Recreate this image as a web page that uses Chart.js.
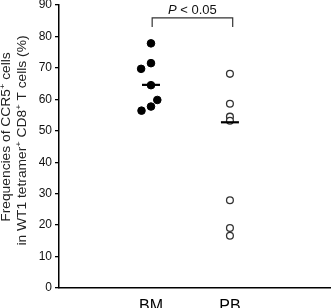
<!DOCTYPE html>
<html>
<head>
<meta charset="utf-8">
<script src="https://cdn.jsdelivr.net/npm/chart.js@4"></script>
<style>
html,body{margin:0;padding:0;background:#fff;}
#wrap{width:331px;height:308px;overflow:hidden;}
</style>
</head>
<body>
<div id="wrap"><canvas id="c" width="331" height="308"></canvas></div>
<script>
// ---- data ----
const categories = ['BM', 'PB'];
const categoryPos = [1, 2];
const bmValues = [77.8, 71.5, 69.7, 64.5, 59.8, 57.7, 56.4];
const bmJitter = [0, 0, -0.125, 0, 0.08, 0, -0.12];
const pbValues = [68.1, 58.6, 54.5, 53.2, 27.9, 19.1, 16.6];
const pbJitter = [0, 0, 0, 0, 0, 0, 0];
const medians = [64.6, 52.7];
const yTicks = [0, 10, 20, 30, 40, 50, 60, 70, 80, 90];
const yTitleLines = [
  [['Frequencies of CCR5', false], ['+', true], [' cells', false]],
  [['in WT1 tetramer', false], ['+', true], [' CD8', false], ['+', true], [' T cells (%)', false]]
];
const pLabel = [['P', true], [' < 0.05', false]];   // [text, italic]
const bracketX = [1.015, 2.035];
const bracketY = [83.0, 85.9];

const FAMILY = "'Liberation Sans', Arial, Helvetica, sans-serif";

const annotations = {
  id: 'annotations',
  afterDraw(chart) {
    const ctx = chart.ctx;
    const xs = chart.scales.x, ys = chart.scales.y;
    ctx.save();
    // significance bracket
    const x1 = xs.getPixelForValue(bracketX[0]);
    const x2 = xs.getPixelForValue(bracketX[1]);
    const yb = ys.getPixelForValue(bracketY[0]);
    const yt = ys.getPixelForValue(bracketY[1]);
    ctx.strokeStyle = '#333';
    ctx.lineWidth = 1.2;
    ctx.beginPath();
    ctx.moveTo(x1, yb); ctx.lineTo(x1, yt); ctx.lineTo(x2, yt); ctx.lineTo(x2, yb);
    ctx.stroke();
    // P value text
    ctx.fillStyle = '#111';
    ctx.textBaseline = 'alphabetic';
    ctx.textAlign = 'left';
    let total = 0;
    pLabel.forEach(([t, it]) => { ctx.font = (it ? 'italic ' : '') + '13px ' + FAMILY; total += ctx.measureText(t).width; });
    let px = (x1 + x2) / 2 - total / 2;
    const py = yt - 4;
    pLabel.forEach(([t, it]) => { ctx.font = (it ? 'italic ' : '') + '13px ' + FAMILY; ctx.fillText(t, px, py); px += ctx.measureText(t).width; });

    // y axis title (two lines, rotated, slightly stretched)
    const centers = [137, 140.5];
    const baselines = [10, 26];
    const fs = 12, sfs = 8;
    yTitleLines.forEach((segs, li) => {
      ctx.save();
      ctx.translate(baselines[li], centers[li]);
      ctx.rotate(-Math.PI / 2);
      ctx.scale(1.15, 1);
      let w = 0;
      segs.forEach(([t, sup]) => { ctx.font = (sup ? sfs : fs) + 'px ' + FAMILY; w += ctx.measureText(t).width; });
      let x = -w / 2;
      ctx.fillStyle = '#222';
      segs.forEach(([t, sup]) => {
        ctx.font = (sup ? sfs : fs) + 'px ' + FAMILY;
        ctx.fillText(t, x, sup ? -5 : 0);
        x += ctx.measureText(t).width;
      });
      ctx.restore();
    });
    ctx.restore();
  }
};

new Chart(document.getElementById('c'), {
  type: 'scatter',
  data: {
    datasets: [
      {
        label: 'median',
        data: categoryPos.map((x, i) => ({ x: x, y: medians[i] })),
        pointStyle: 'line',
        pointRadius: 9,
        borderColor: '#000',
        backgroundColor: '#000',
        borderWidth: 2.2,
        order: 0
      },
      {
        label: categories[0],
        data: bmValues.map((v, i) => ({ x: categoryPos[0] + bmJitter[i], y: v })),
        pointRadius: 3.8,
        backgroundColor: '#000',
        borderColor: '#000',
        borderWidth: 1,
        order: 1
      },
      {
        label: categories[1],
        data: pbValues.map((v, i) => ({ x: categoryPos[1] + pbJitter[i], y: v })),
        pointRadius: 3.4,
        backgroundColor: '#fff',
        borderColor: '#333',
        borderWidth: 1.3,
        order: 1
      }
    ]
  },
  options: {
    responsive: false,
    animation: false,
    devicePixelRatio: 1,
    layout: { autoPadding: false, padding: { top: 5, right: 0, left: 0, bottom: 0 } },
    plugins: { legend: { display: false }, tooltip: { enabled: false } },
    scales: {
      x: {
        type: 'linear',
        min: -0.165,
        max: 3.28,
        grid: { display: false },
        border: { display: true, color: '#000', width: 1.5 },
        afterBuildTicks: s => { s.ticks = categoryPos.map(v => ({ value: v })); },
        ticks: {
          callback: (v, i) => categories[i],
          font: { size: 16, family: FAMILY },
          color: '#000',
          padding: 1,
          autoSkip: false,
          maxRotation: 0
        },
        afterFit: s => { s.height = 20; s.paddingLeft = 0; s.paddingRight = 0; }
      },
      y: {
        type: 'linear',
        min: 0,
        max: 90,
        afterBuildTicks: s => { s.ticks = yTicks.map(v => ({ value: v })); },
        grid: { drawOnChartArea: false, drawTicks: true, tickLength: 4, color: '#000', lineWidth: 1.3 },
        border: { display: true, color: '#000', width: 1.5 },
        ticks: { font: { size: 12, family: FAMILY }, color: '#111', padding: 3 },
        afterFit: s => { s.width = 59; s.paddingTop = 0; s.paddingBottom = 0; }
      }
    }
  },
  plugins: [annotations]
});
</script>
</body>
</html>
